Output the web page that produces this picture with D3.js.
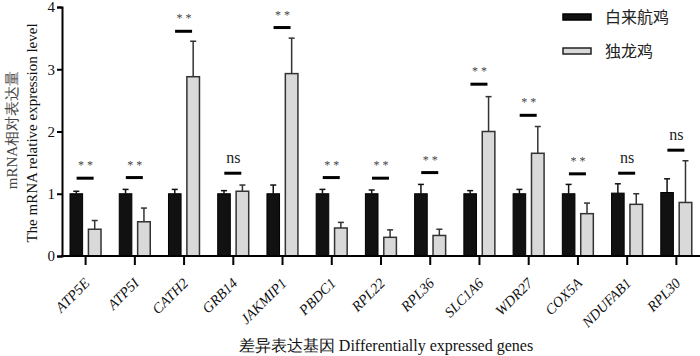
<!DOCTYPE html>
<html lang="zh">
<head>
  <meta charset="UTF-8">
  <title>mRNA relative expression</title>
  <script src="https://d3js.org/d3.v7.min.js"></script>
  <style>
    body { margin: 0; background: #fff; }
    svg { display: block; }
    text { font-family: "Liberation Serif", "Times New Roman", serif; fill: #111; }
    .cjk { font-family: "Noto Sans CJK SC", sans-serif; }
  </style>
</head>
<body>
<svg width="700" height="356"></svg>
<script>
const genes = ["ATP5E", "ATP5I", "CATH2", "GRB14", "JAKMIP1", "PBDC1", "RPL22",
               "RPL36", "SLC1A6", "WDR27", "COX5A", "NDUFAB1", "RPL30"];
// 白来航鸡 (black bars)
const leghorn    = [1.0, 1.0, 1.0, 1.0, 1.0, 1.0, 1.0, 1.0, 1.0, 1.0, 1.0, 1.01, 1.02];
const leghornErr = [0.04, 0.07, 0.07, 0.05, 0.14, 0.07, 0.06, 0.15, 0.05, 0.07, 0.15, 0.15, 0.22];
// 独龙鸡 (grey bars)
const dulong     = [0.43, 0.55, 2.88, 1.04, 2.93, 0.45, 0.30, 0.33, 2.0, 1.65, 0.68, 0.83, 0.86];
const dulongErr  = [0.14, 0.22, 0.57, 0.10, 0.57, 0.09, 0.12, 0.10, 0.56, 0.43, 0.17, 0.17, 0.67];
// significance marks and the level of their bars
const sigText  = ["**", "**", "**", "ns", "**", "**", "**", "**", "**", "**", "**", "ns", "ns"];
const sigLevel = [1.25, 1.26, 3.61, 1.33, 3.67, 1.26, 1.25, 1.34, 2.76, 2.26, 1.32, 1.33, 1.70];
const yTicks = [0, 1, 2, 3, 4];

const svg = d3.select("svg");

const y = d3.scaleLinear().domain([0, 4]).range([256, 7]);
const x = d3.scaleBand().domain(genes).range([61, 701]);
const cx = g => x(g) + x.bandwidth() / 2;
const barW = 12.6;

// y axis
const yAxis = svg.append("g")
  .attr("transform", "translate(62,0)")
  .call(d3.axisLeft(y).tickValues(yTicks).tickFormat(d3.format("d")).tickSize(5).tickPadding(2));
yAxis.select(".domain").attr("stroke", "#000").attr("stroke-width", 2);
yAxis.selectAll(".tick line").attr("stroke", "#000").attr("stroke-width", 2);
yAxis.selectAll(".tick text").attr("font-size", 15).attr("font-family", "Liberation Serif").attr("fill", "#111");

// bars
const grp = svg.append("g").selectAll("g").data(genes).join("g");

grp.append("rect")
  .attr("x", g => cx(g) - 15.6)
  .attr("y", (g, i) => y(leghorn[i]))
  .attr("width", barW)
  .attr("height", (g, i) => y(0) - y(leghorn[i]))
  .attr("fill", "#111")
  .attr("stroke", "#000")
  .attr("stroke-width", 1);

grp.append("rect")
  .attr("x", g => cx(g) + 2.8)
  .attr("y", (g, i) => y(dulong[i]))
  .attr("width", barW)
  .attr("height", (g, i) => y(0) - y(dulong[i]))
  .attr("fill", "#d9d9d9")
  .attr("stroke", "#333")
  .attr("stroke-width", 1.5);

// error bars (upper only)
function errBar(sel, xoff, vals, errs, col) {
  sel.append("line")
    .attr("x1", g => cx(g) + xoff).attr("x2", g => cx(g) + xoff)
    .attr("y1", (g, i) => y(vals[i]))
    .attr("y2", (g, i) => y(vals[i] + errs[i]))
    .attr("stroke", col).attr("stroke-width", 1.5);
  sel.append("line")
    .attr("x1", g => cx(g) + xoff - 3).attr("x2", g => cx(g) + xoff + 3)
    .attr("y1", (g, i) => y(vals[i] + errs[i]))
    .attr("y2", (g, i) => y(vals[i] + errs[i]))
    .attr("stroke", col).attr("stroke-width", 1.5);
}
errBar(grp, -15.6 + barW / 2, leghorn, leghornErr, "#111");
errBar(grp, 2.8 + barW / 2, dulong, dulongErr, "#333");

// significance
grp.append("line")
  .attr("x1", g => cx(g) - 9).attr("x2", g => cx(g) + 8)
  .attr("y1", (g, i) => y(sigLevel[i])).attr("y2", (g, i) => y(sigLevel[i]))
  .attr("stroke", "#000").attr("stroke-width", 3);

grp.append("text")
  .attr("x", g => cx(g))
  .attr("y", (g, i) => y(sigLevel[i]) - (sigText[i] === "ns" ? 10 : 9))
  .attr("text-anchor", "middle")
  .attr("font-size", (g, i) => sigText[i] === "ns" ? 16 : 12)
  .attr("font-family", (g, i) => sigText[i] === "ns" ? "Liberation Serif" : "DejaVu Sans")
  .style("fill", (g, i) => sigText[i] === "ns" ? "#222" : "#444")
  .text((g, i) => sigText[i] === "ns" ? "ns" : "* *");

// x axis
svg.append("line")
  .attr("x1", 61).attr("x2", 700).attr("y1", y(0)).attr("y2", y(0))
  .attr("stroke", "#000").attr("stroke-width", 2);
svg.append("g").selectAll("line").data(genes).join("line")
  .attr("x1", cx).attr("x2", cx)
  .attr("y1", y(0)).attr("y2", y(0) + 9)
  .attr("stroke", "#000").attr("stroke-width", 2);
svg.append("g").selectAll("text").data(genes).join("text")
  .attr("transform", g => `translate(${cx(g) + 5},${y(0) + 28}) rotate(-45)`)
  .attr("text-anchor", "end")
  .attr("font-size", 14.5)
  .attr("font-style", "italic")
  .text(g => g);

// axis titles
svg.append("text")
  .attr("transform", "translate(17,130) rotate(-90)")
  .attr("text-anchor", "middle")
  .attr("font-size", 15)
  .style("fill", "#444")
  .text("mRNA相对表达量");
svg.append("text")
  .attr("transform", "translate(37,133) rotate(-90)")
  .attr("text-anchor", "middle")
  .attr("font-size", 15)
  .text("The mRNA relative expression level");
svg.append("text")
  .attr("x", 386).attr("y", 351)
  .attr("text-anchor", "middle")
  .attr("font-size", 16)
  .text("差异表达基因  Differentially expressed genes");

// legend
const legendNames = ["白来航鸡", "独龙鸡"];
const legendFill = ["#111", "#d9d9d9"];
const lg = svg.append("g").selectAll("g").data(legendNames).join("g")
  .attr("transform", (d, i) => `translate(563,${17 + i * 34})`);
lg.append("rect")
  .attr("x", 0).attr("y", -3).attr("width", 28).attr("height", 6)
  .attr("fill", (d, i) => legendFill[i])
  .attr("stroke", (d, i) => i ? "#222" : "#000").attr("stroke-width", 1.5);
lg.append("text")
  .attr("class", "cjk")
  .attr("x", 42).attr("y", 0).attr("dy", "0.35em")
  .attr("font-size", 16)
  .style("fill", "#222")
  .text(d => d);
</script>
</body>
</html>
